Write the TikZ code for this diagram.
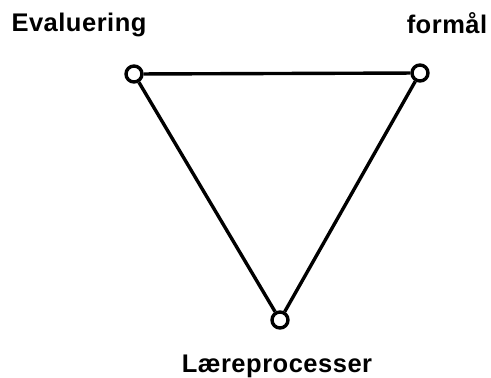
\documentclass[tikz,border=0pt]{standalone}
\usepackage{fontspec}
\setmainfont{Liberation Sans}[LetterSpace=2]
\begin{document}
\begin{tikzpicture}[x=1pt,y=-1pt,
  vertex/.style={circle,draw=black,fill=white,line width=3.4pt,minimum size=16pt,inner sep=0pt},
  edge/.style={line width=3.4pt,black},
  lbl/.style={font=\fontsize{25.5}{28}\selectfont\bfseries,anchor=base,inner sep=0pt}]
\useasboundingbox (0,0) rectangle (491,378);
\node[vertex] (a) at (134,74) {};
\node[vertex] (b) at (420,73) {};
\node[vertex] (c) at (280,320) {};
\draw[edge] (a) -- (b);
\draw[edge] (a) -- (c);
\draw[edge] (b) -- (c);
\node[lbl] (la) at (79,31) {Evaluering};
\node[lbl] (lb) at (447,33) {formål};
\node[lbl] (lc) at (277,372) {Læreprocesser};
\end{tikzpicture}
\end{document}
